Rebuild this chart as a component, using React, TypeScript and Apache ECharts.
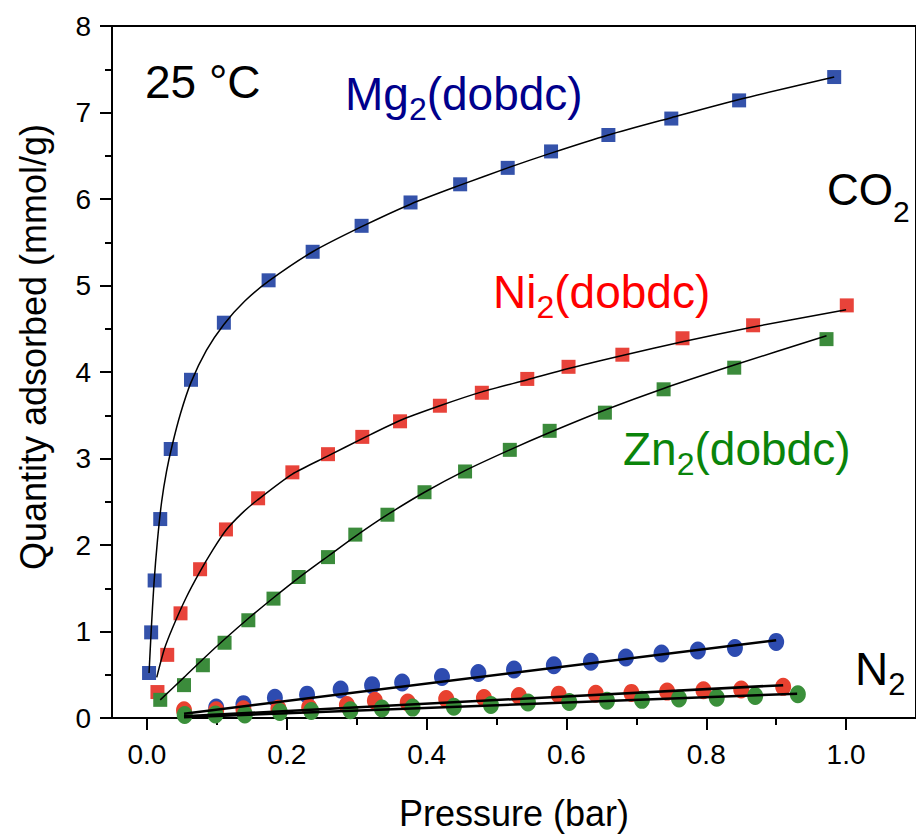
import React, { useEffect, useRef } from 'react';
import * as echarts from 'echarts';

// CO2 isotherms (pressure in bar, quantity in mmol/g)
const mgCO2: number[][] = [
  [0.003, 0.52], [0.006, 0.99], [0.011, 1.59], [0.019, 2.30], [0.034, 3.11], [0.063, 3.91],
  [0.110, 4.57], [0.174, 5.06], [0.237, 5.39], [0.307, 5.69], [0.377, 5.96], [0.448, 6.17],
  [0.516, 6.36], [0.578, 6.55], [0.660, 6.74], [0.750, 6.93], [0.847, 7.14], [0.983, 7.41],
];
const niCO2: number[][] = [
  [0.015, 0.30], [0.029, 0.73], [0.048, 1.21], [0.076, 1.72], [0.113, 2.18], [0.159, 2.54],
  [0.208, 2.84], [0.259, 3.05], [0.308, 3.25], [0.362, 3.43], [0.419, 3.61], [0.479, 3.76],
  [0.544, 3.92], [0.603, 4.06], [0.680, 4.20], [0.766, 4.39], [0.867, 4.54], [1.001, 4.77],
];
const znCO2: number[][] = [
  [0.019, 0.21], [0.053, 0.38], [0.080, 0.61], [0.111, 0.87], [0.145, 1.13], [0.181, 1.38],
  [0.217, 1.63], [0.259, 1.86], [0.298, 2.12], [0.344, 2.35], [0.397, 2.61], [0.455, 2.85],
  [0.519, 3.10], [0.576, 3.32], [0.655, 3.53], [0.739, 3.80], [0.840, 4.05], [0.972, 4.38],
];
// fitted curves
const mgFit: number[][] = [
  [0.003, 0.52], [0.006, 1.00], [0.010, 1.55], [0.015, 2.05], [0.021, 2.50], [0.028, 2.85],
  [0.036, 3.15], [0.048, 3.52], [0.063, 3.88], [0.085, 4.25], [0.110, 4.55], [0.140, 4.82],
  [0.174, 5.05], [0.237, 5.39], [0.307, 5.68], [0.377, 5.94], [0.448, 6.16], [0.516, 6.36],
  [0.578, 6.53], [0.660, 6.74], [0.750, 6.94], [0.847, 7.15], [0.983, 7.41],
];
const niFit: number[][] = [
  [0.014, 0.47], [0.025, 0.80], [0.037, 1.05], [0.056, 1.39], [0.075, 1.68], [0.094, 1.94],
  [0.113, 2.17], [0.135, 2.36], [0.158, 2.52], [0.208, 2.82], [0.259, 3.03], [0.308, 3.23],
  [0.362, 3.44], [0.419, 3.61], [0.479, 3.77], [0.544, 3.91], [0.603, 4.04], [0.680, 4.19],
  [0.766, 4.35], [0.867, 4.52], [1.000, 4.72],
];
const znFit: number[][] = [
  [0.019, 0.21], [0.053, 0.47], [0.080, 0.68], [0.111, 0.91], [0.145, 1.15], [0.181, 1.39],
  [0.217, 1.62], [0.259, 1.87], [0.298, 2.10], [0.344, 2.35], [0.397, 2.61], [0.455, 2.86],
  [0.519, 3.10], [0.576, 3.30], [0.655, 3.56], [0.739, 3.81], [0.840, 4.08], [0.972, 4.42],
];
// N2 isotherms
const mgN2: number[][] = [
  [0.099, 0.12], [0.138, 0.16], [0.183, 0.235], [0.229, 0.27], [0.277, 0.33], [0.322, 0.38],
  [0.365, 0.41], [0.422, 0.475], [0.474, 0.52], [0.525, 0.56], [0.582, 0.61], [0.635, 0.65],
  [0.685, 0.70], [0.736, 0.745], [0.788, 0.78], [0.841, 0.81], [0.900, 0.88],
];
const niN2: number[][] = [
  [0.053, 0.09], [0.099, 0.09], [0.138, 0.10], [0.188, 0.11], [0.232, 0.12], [0.286, 0.15],
  [0.326, 0.20], [0.373, 0.18], [0.428, 0.22], [0.482, 0.23], [0.532, 0.255], [0.589, 0.27],
  [0.642, 0.28], [0.693, 0.29], [0.744, 0.305], [0.796, 0.32], [0.850, 0.33], [0.910, 0.36],
];
const znN2: number[][] = [
  [0.054, 0.035], [0.098, 0.04], [0.140, 0.04], [0.190, 0.07], [0.235, 0.08], [0.291, 0.09],
  [0.336, 0.11], [0.380, 0.12], [0.439, 0.13], [0.492, 0.15], [0.545, 0.18], [0.604, 0.185],
  [0.658, 0.20], [0.708, 0.21], [0.761, 0.225], [0.815, 0.235], [0.870, 0.255], [0.931, 0.275],
];
const mgN2Fit: number[][] = [[0.053, 0.05], [0.900, 0.90]];
const niN2Fit: number[][] = [[0.053, 0.02], [0.910, 0.38]];
const znN2Fit: number[][] = [[0.053, 0.01], [0.930, 0.28]];

const xMajorTicks = [0, 0.2, 0.4, 0.6, 0.8, 1.0];
const xMinorTicks = [0.1, 0.3, 0.5, 0.7, 0.9];

const FONT = 'Liberation Sans, Arial, Helvetica, sans-serif';

const BLUE = '#3452aa';
const RED = '#e8433a';
const GREEN = '#3b8b3b';

let measureCtx: CanvasRenderingContext2D | null = null;
function textWidth(text: string, size: number): number {
  if (!measureCtx) measureCtx = document.createElement('canvas').getContext('2d');
  if (!measureCtx) return text.length * size * 0.55;
  measureCtx.font = `${size}px "Liberation Sans", Arial, sans-serif`;
  return measureCtx.measureText(text).width;
}

// one text piece placed by its baseline
function piece(text: string, x: number, baseline: number, size: number, color: string) {
  const top = baseline - 0.3465 * size - size / 2;
  return {
    type: 'text', x, y: top, z: 100,
    style: {
      text: `{a|${text}}`, fill: color,
      rich: { a: { fontSize: size, fontFamily: FONT, lineHeight: size, fill: color } },
    },
  };
}

function subLabel(
  main1: string, sub: string, main2: string, x: number, baseline: number, color: string,
  size: number, subSize: number, subDrop: number,
) {
  const w1 = textWidth(main1, size);
  const w2 = textWidth(sub, subSize);
  const out: any[] = [
    piece(main1, x, baseline, size, color),
    piece(sub, x + w1, baseline + subDrop, subSize, color),
  ];
  if (main2) out.push(piece(main2, x + w1 + w2, baseline, size, color));
  return out;
}

export default function App() {
  const ref = useRef<HTMLDivElement>(null);
  useEffect(() => {
    const chart = echarts.init(ref.current!, null, { renderer: 'svg' });
    const sq = (name: string, data: number[][], color: string) => ({
      name, type: 'scatter', data, symbol: 'rect', symbolSize: 14,
      itemStyle: { color, opacity: 1 }, z: 2,
    });
    const circ = (name: string, data: number[][], color: string) => ({
      name, type: 'scatter', data, symbol: 'circle', symbolSize: [16, 18],
      itemStyle: { color, opacity: 1 }, z: 2,
    });
    const fit = (name: string, data: number[][], width: number, smooth: number | false) => ({
      name, type: 'line', data, symbol: 'none', smooth,
      lineStyle: { color: '#000', width }, z: 5, silent: true,
    });
    const option: any = {
      animation: false,
      backgroundColor: '#fff',
      grid: {
        left: 112, top: 26, right: -5, bottom: 122,
        show: true, borderColor: '#000', borderWidth: 2, backgroundColor: 'transparent',
      },
      xAxis: [
        {
          type: 'value', min: -0.05, max: 1.1, position: 'bottom',
          name: 'Pressure (bar)', nameLocation: 'middle', nameGap: 77,
          nameTextStyle: { fontSize: 36, fontFamily: FONT, color: '#000' },
          axisLine: { onZero: false, lineStyle: { color: '#000', width: 2 } },
          axisTick: { customValues: xMajorTicks, length: 12, lineStyle: { color: '#000', width: 2 } },
          axisLabel: {
            customValues: xMajorTicks, formatter: (v: number) => v.toFixed(1),
            fontSize: 28, lineHeight: 28, fontFamily: FONT, color: '#000', margin: 22,
          },
          splitLine: { show: false },
        },
        {
          type: 'value', min: -0.05, max: 1.1, position: 'bottom',
          axisLine: { show: false, onZero: false },
          axisTick: { customValues: xMinorTicks, length: 7, lineStyle: { color: '#000', width: 2 } },
          axisLabel: { show: false },
          splitLine: { show: false },
        },
      ],
      yAxis: {
        type: 'value', min: 0, max: 8, interval: 1,
        axisLine: { show: true, onZero: false, lineStyle: { color: '#000', width: 2 } },
        axisTick: { show: true, length: 12, lineStyle: { color: '#000', width: 2 } },
        minorTick: { show: true, splitNumber: 2, length: 7, lineStyle: { color: '#000', width: 2 } },
        axisLabel: { fontSize: 28, fontFamily: FONT, color: '#000', margin: 21 },
        splitLine: { show: false },
      },
      series: [
        sq('Mg2(dobdc) CO2', mgCO2, BLUE),
        sq('Ni2(dobdc) CO2', niCO2, RED),
        sq('Zn2(dobdc) CO2', znCO2, GREEN),
        circ('Mg2(dobdc) N2', mgN2, '#2d4bb0'),
        circ('Ni2(dobdc) N2', niN2, '#e8412f'),
        circ('Zn2(dobdc) N2', znN2, '#3a8f3a'),
        fit('Mg fit', mgFit, 1.5, 0.25),
        fit('Ni fit', niFit, 1.5, 0.25),
        fit('Zn fit', znFit, 1.5, 0.25),
        fit('Mg N2 fit', mgN2Fit, 2.5, false),
        fit('Ni N2 fit', niN2Fit, 2.5, false),
        fit('Zn N2 fit', znN2Fit, 2.5, false),
      ],
      graphic: [
        piece('25 °C', 145, 98, 46, '#000'),
        ...subLabel('Mg', '2', '(dobdc)', 345, 110, '#00008c', 46, 32, 10),
        ...subLabel('Ni', '2', '(dobdc)', 493, 308, '#ff0000', 46, 32, 10),
        ...subLabel('Zn', '2', '(dobdc)', 623, 465, '#0a840a', 46, 32, 10),
        ...subLabel('CO', '2', '', 827, 205, '#000', 44, 30, 17),
        ...subLabel('N', '2', '', 855, 685, '#000', 46, 31, 10),
        {
          type: 'text', x: 33, y: 347, rotation: Math.PI / 2, z: 100,
          style: {
            text: 'Quantity adsorbed (mmol/g)', fill: '#000',
            font: `36px ${FONT}`, fontSize: 36, fontFamily: FONT,
            align: 'center', verticalAlign: 'middle',
            textAlign: 'center', textVerticalAlign: 'middle',
          },
        },
      ],
    };
    chart.setOption(option);
    return () => chart.dispose();
  }, []);
  return (
    <div
      ref={ref}
      style={{ width: 916, height: 840, position: 'fixed', left: 0, top: 0, background: '#fff' }}
    />
  );
}
